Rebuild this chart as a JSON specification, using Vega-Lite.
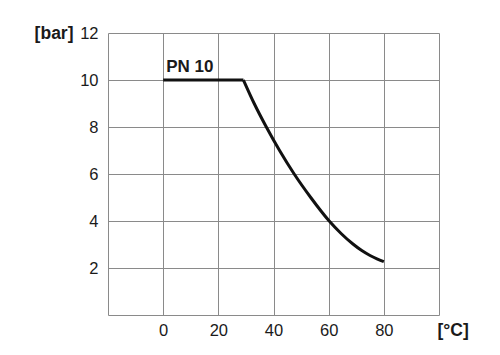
{
  "$schema": "https://vega.github.io/schema/vega-lite/v6.json",
  "autosize": "none",
  "width": 331,
  "height": 282,
  "padding": {"left": 108, "top": 33, "right": 61, "bottom": 40},
  "background": "white",
  "config": {
    "view": {"stroke": null},
    "font": "Liberation Sans"
  },
  "datasets": {
    "curve": [
      {"part": "flat", "t": 0, "p": 10},
      {"part": "flat", "t": 29.1, "p": 10},
      {"part": "drop", "t": 29.1, "p": 10},
      {"part": "drop", "t": 33, "p": 9},
      {"part": "drop", "t": 37.4, "p": 8},
      {"part": "drop", "t": 42.2, "p": 7},
      {"part": "drop", "t": 47.5, "p": 6},
      {"part": "drop", "t": 53.5, "p": 5},
      {"part": "drop", "t": 60.2, "p": 4},
      {"part": "drop", "t": 64.5, "p": 3.47},
      {"part": "drop", "t": 68.8, "p": 3.02},
      {"part": "drop", "t": 72, "p": 2.74},
      {"part": "drop", "t": 75, "p": 2.53},
      {"part": "drop", "t": 77.5, "p": 2.39},
      {"part": "drop", "t": 80, "p": 2.27}
    ],
    "label": [{"t": 0, "p": 10, "text": "PN 10"}]
  },
  "layer": [
    {
      "data": {"name": "curve"},
      "mark": {"type": "line", "color": "#111111", "strokeWidth": 3, "strokeCap": "butt", "strokeJoin": "miter", "interpolate": "monotone"},
      "encoding": {
        "detail": {"field": "part", "type": "nominal"},
        "x": {
          "field": "t", "type": "quantitative",
          "scale": {"domain": [-20, 100], "nice": false, "zero": false},
          "axis": {
            "values": [-20, 0, 20, 40, 60, 80, 100],
            "labelExpr": "(datum.value >= 0 && datum.value <= 80) ? datum.label : ''",
            "grid": true, "gridColor": "#8a8a8a", "gridWidth": 1, "gridOpacity": 1,
            "domain": false, "ticks": false,
            "labelFontSize": 16.5, "labelColor": "#1a1a1a", "labelPadding": 7,
            "title": "[°C]", "titleFontSize": 17.5, "titleFontWeight": "bold", "titleColor": "#1a1a1a",
            "titleAlign": "left", "titleBaseline": "middle", "titleAnchor": null,
            "titleX": 329, "titleY": 15
          }
        },
        "y": {
          "field": "p", "type": "quantitative",
          "scale": {"domain": [0, 12], "nice": false},
          "axis": {
            "values": [0, 1, 2, 3, 4, 5, 6, 7, 8, 9, 10, 11, 12],
            "labelExpr": "(datum.value > 0 && datum.value % 2 == 0) ? datum.label : ''",
            "grid": true, "gridColor": "#8a8a8a", "gridWidth": 1, "gridOpacity": 1,
            "domain": false, "ticks": false,
            "labelFontSize": 16.5, "labelColor": "#1a1a1a", "labelPadding": 10,
            "title": "[bar]", "titleFontSize": 17.5, "titleFontWeight": "bold", "titleColor": "#1a1a1a",
            "titleAngle": 0, "titleAlign": "right", "titleBaseline": "middle", "titleAnchor": null,
            "titleX": -35, "titleY": 0
          }
        }
      }
    },
    {
      "data": {"name": "label"},
      "mark": {"type": "text", "align": "left", "baseline": "bottom", "dx": 3, "dy": -4, "fontSize": 17, "fontWeight": "bold", "color": "#1a1a1a"},
      "encoding": {
        "x": {"field": "t", "type": "quantitative"},
        "y": {"field": "p", "type": "quantitative"},
        "text": {"field": "text"}
      }
    }
  ]
}
